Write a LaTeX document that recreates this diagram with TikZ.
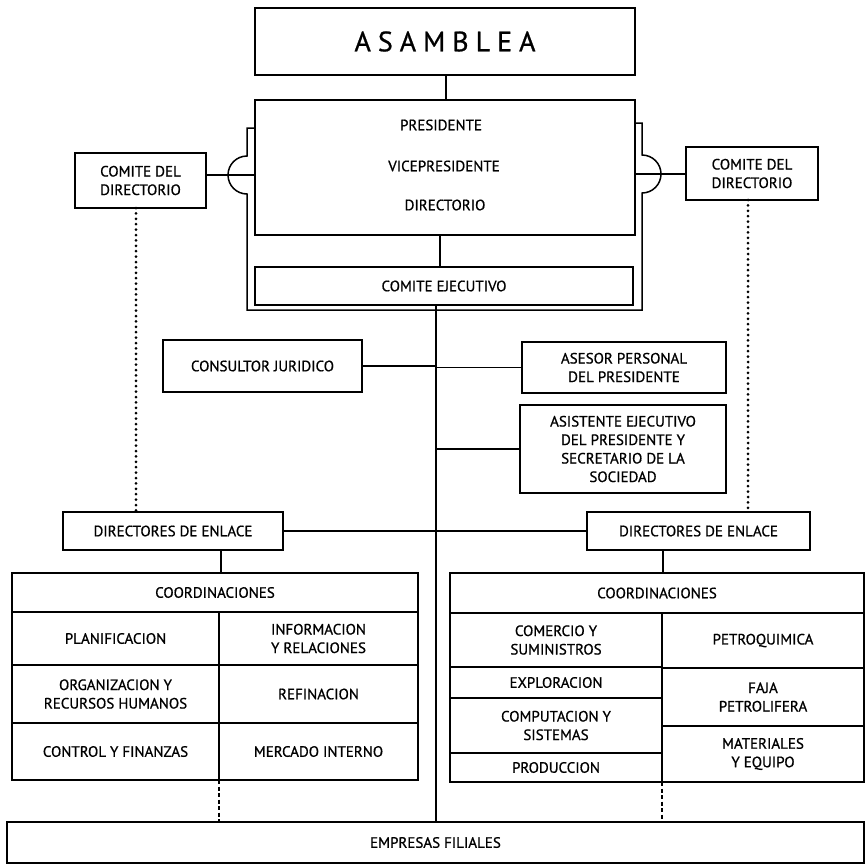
\documentclass[tikz,border=0pt]{standalone}
\usepackage{fontspec}
\setmainfont{PT Sans}
\newfontfamily\dfont{PT Sans}[FakeBold=0.8]
\begin{document}
\begin{tikzpicture}[x=1pt,y=-1pt,line width=1.5pt,
  obox/.style={draw,inner sep=0pt,outer sep=0pt,font=\dfont\fontsize{15}{18.5}\selectfont,align=center},
  otxt/.style={inner sep=0pt,font=\dfont\fontsize{15}{18.5}\selectfont,align=center},
  dotline/.style={line width=3pt,dash pattern=on 0pt off 5.4pt,line cap=round},
  dashline/.style={line width=1.5pt,dash pattern=on 4pt off 2.5pt}]
\newcommand\bx[6]{\node[obox,minimum width={(#4-#2)*1pt},minimum height={(#5-#3)*1pt}] (#1) at ({(#2+#4)/2},{(#3+#5)/2}) {#6};}
\useasboundingbox (0,0) rectangle (866,865);
% top
\bx{asam}{255}{8}{635}{75}{\fontsize{28}{32}\selectfont A\kern7pt S\kern7pt A\kern7pt M\kern7pt B\kern7pt L\kern7pt E\kern7pt A}
\bx{pres}{255}{100}{635}{235}{}
\node[otxt] (tpres) at (441,125) {PRESIDENTE};
\node[otxt] (tvice) at (444,166) {VICEPRESIDENTE};
\node[otxt] (tdir) at (445,205) {DIRECTORIO};
\bx{ejec}{255}{267}{633}{305}{COMITE EJECUTIVO}
\bx{comL}{75}{153}{206}{208}{COMITE DEL\\DIRECTORIO}
\bx{comR}{686}{147}{818}{200}{COMITE DEL\\DIRECTORIO}
% staff
\bx{cons}{163}{340}{362}{392}{CONSULTOR JURIDICO}
\bx{ases}{522}{342}{726}{393}{ASESOR PERSONAL\\DEL PRESIDENTE}
\bx{asis}{520}{405}{726}{493}{ASISTENTE EJECUTIVO\\DEL PRESIDENTE Y\\SECRETARIO DE LA\\SOCIEDAD}
\bx{dirL}{63}{512}{283}{550}{DIRECTORES DE ENLACE}
\bx{dirR}{587}{512}{810}{550}{DIRECTORES DE ENLACE}
% left block
\bx{cooL}{12}{573}{418}{612}{COORDINACIONES}
\bx{planif}{12}{612}{219}{665}{PLANIFICACION}
\bx{inform}{219}{612}{418}{665}{INFORMACION\\Y RELACIONES}
\bx{organ}{12}{665}{219}{723}{ORGANIZACION Y\\RECURSOS HUMANOS}
\bx{refin}{219}{665}{418}{723}{REFINACION}
\bx{contr}{12}{723}{219}{780}{CONTROL Y FINANZAS}
\bx{merc}{219}{723}{418}{780}{MERCADO INTERNO}
% right block
\bx{cooR}{450}{573}{864}{613}{COORDINACIONES}
\bx{comer}{450}{613}{662}{667}{COMERCIO Y\\SUMINISTROS}
\bx{explo}{450}{667}{662}{698}{EXPLORACION}
\bx{compu}{450}{698}{662}{753}{COMPUTACION Y\\SISTEMAS}
\bx{produ}{450}{753}{662}{782}{PRODUCCION}
\bx{petro}{662}{613}{864}{668}{PETROQUIMICA}
\bx{faja}{662}{668}{864}{726}{FAJA\\PETROLIFERA}
\bx{mater}{662}{726}{864}{782}{MATERIALES\\Y EQUIPO}
% bottom
\bx{emp}{7}{822}{864}{863}{EMPRESAS FILIALES}
% coordinates
\coordinate (xa) at (446,0);
\coordinate (xp) at (440,0);
\coordinate (xm) at (436,0);
\coordinate (xl) at (221,0);
\coordinate (xr) at (663,0);
\coordinate (dl) at (136,0);
\coordinate (dr) at (748,0);
\coordinate (jl) at (247,175);
\coordinate (jr) at (642,174);
% connectors
\draw (asam.south -| xa) -- (pres.north -| xa);
\draw (pres.south -| xp) -- (ejec.north -| xp);
\draw (ejec.south -| xm) -- (emp.north -| xm);
\draw (cons.east) -- (cons.east -| xm);
\draw (ases.west) -- (ases.west -| xm);
\draw (asis.west) -- (asis.west -| xm);
\draw (dirL.east) -- (dirR.west);
\draw (dirL.south -| xl) -- (cooL.north -| xl);
\draw (dirR.south -| xr) -- (cooR.north -| xr);
\draw[dashline] (contr.south east) -- (emp.north -| contr.south east);
\draw[dashline] (produ.south east) -- (emp.north -| produ.south east);
\draw[dotline] (comL.south -| dl) -- (dirL.north -| dl);
\draw[dotline] (comR.south -| dr) -- (dirR.north -| dr);
\draw (comL.east |- jl) -- (pres.west |- jl);
\draw (pres.east |- jr) -- (comR.west |- jr);
% frame around directorio and comite ejecutivo, jumping over the comite lines
\draw (255,128) -- (247,128) -- (247,156) arc[start angle=270,end angle=90,radius=19] -- (247,310)
  -- (642,310) -- (642,193) arc[start angle=90,end angle=-90,radius=19] -- (642,123) -- (635,123);
\end{tikzpicture}
\end{document}
